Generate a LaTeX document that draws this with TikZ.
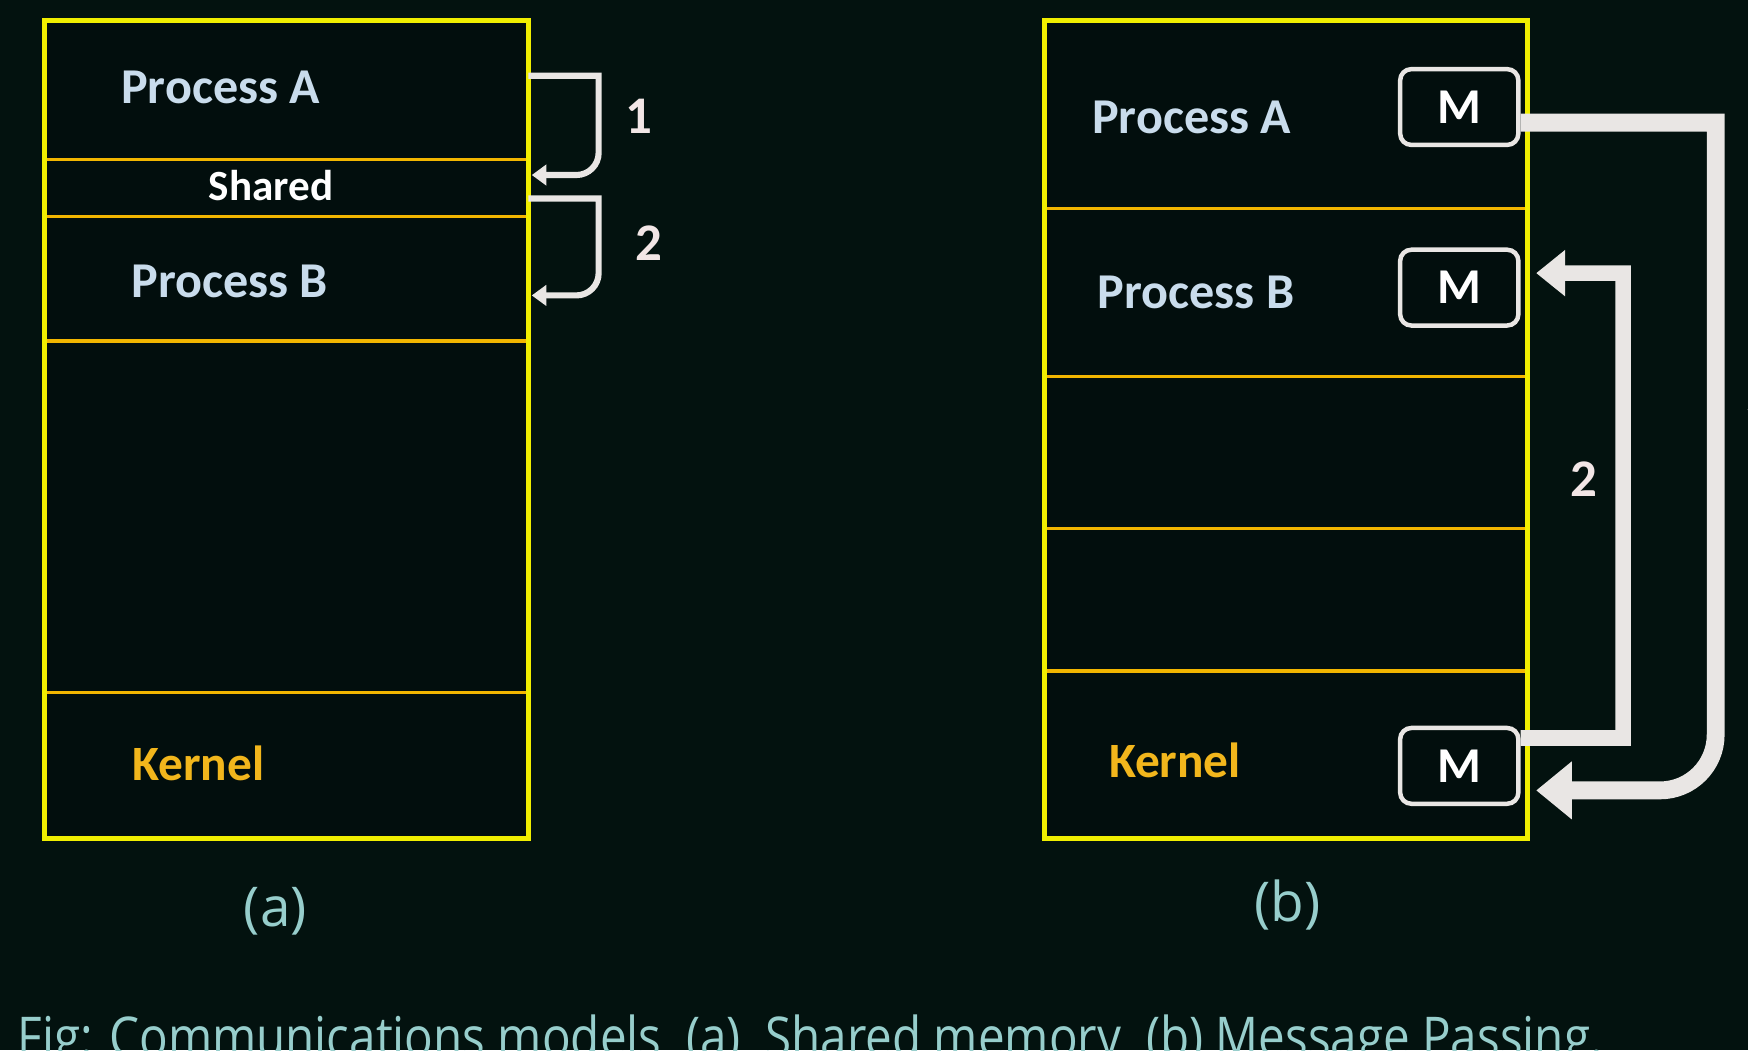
\documentclass[tikz,border=0pt]{standalone}
\usepackage{fontspec}
\setmainfont{Carlito}
\newfontfamily\capfont{Open Sans}
\usetikzlibrary{arrows.meta, calc, positioning}
\definecolor{bg}{HTML}{03120F}
\definecolor{inner}{HTML}{020E0D}
\definecolor{frame}{HTML}{F0EE00}
\definecolor{sepcol}{HTML}{F2B600}
\definecolor{proccol}{HTML}{C9DCEC}
\definecolor{kerncol}{HTML}{F2B61C}
\definecolor{msgcol}{HTML}{E9E6E4}
\definecolor{numcol}{HTML}{F2E6E6}
\definecolor{capcol}{HTML}{8CC8C6}
\tikzset{memory/.style={draw=frame, line width=0.45mm, fill=inner}}
\tikzset{sepline/.style={sepcol, line width=0.3mm}}
\tikzset{procname/.style={text=proccol, inner sep=0pt, font=\fontsize{12.8}{15}\selectfont\bfseries}}
\tikzset{kernname/.style={text=kerncol, inner sep=0pt, font=\fontsize{12.6}{15}\selectfont\bfseries}}
\tikzset{sharedname/.style={text=white, inner sep=0pt, font=\fontsize{11}{13}\selectfont\bfseries}}
\tikzset{msgbox/.style={draw=msgcol, line width=0.4mm, rounded corners=1mm, fill=inner, text=white,
  minimum width=10.6mm, minimum height=6.8mm, inner sep=0pt, font=\fontsize{12.8}{15}\selectfont\bfseries}}
\tikzset{stepnum/.style={text=numcol, inner sep=0pt, font=\fontsize{13.5}{16}\selectfont\bfseries}}
\tikzset{thinarrow/.style={msgcol, line width=0.55mm, -{Triangle[width=1.8mm, length=1.3mm]}}}
\tikzset{fatarrow/.style={msgcol, line width=1.6mm, -{Triangle[width=5mm, length=3.2mm]}}}
\tikzset{subcap/.style={text=capcol!90!white, inner sep=0pt, font=\capfont\fontsize{14}{17}\selectfont}}

\begin{document}
\begin{tikzpicture}[x=0.1mm, y=0.1mm]
		% Background
		\fill[bg] (0,0) rectangle (1568,942);
		\useasboundingbox (0,0) rectangle (1568,942);

		% Memory (a)
		\draw[memory] (40,190) rectangle (474,924);
		\draw[sepline] (42,799) -- (472,799);
		\draw[sepline] (42,748) -- (472,748);
		\draw[sepline] (42,636) -- (472,636);
		\draw[sepline] (42,321) -- (472,321);
		\node[procname] (pa) at (198,864) {Process A};
		\node[sharedname] (sh) at (243,776) {Shared};
		\node[procname] (pb) at (206,690) {Process B};
		\node[kernname] (ka) at (178,257) {Kernel};

		% Memory (b)
		\draw[memory] (937,190) rectangle (1370,924);
		\draw[sepline] (939,755) -- (1368,755);
		\draw[sepline] (939,604) -- (1368,604);
		\draw[sepline] (939,468) -- (1368,468);
		\draw[sepline] (939,340) -- (1368,340);
		\node[procname] (qa) at (1069,837) {Process A};
		\node[procname] (qb) at (1073,680) {Process B};
		\node[kernname] (kb) at (1054,260) {Kernel};
		\node[msgbox] (mA) at (1309,846) {M};
		\node[msgbox] (mB) at (1309,684) {M};
		\node[msgbox] (mK) at (1309,255) {M};

		% Coordinates
		\coordinate (s1) at (474,874);
		\coordinate (e1) at (477,785);
		\coordinate (s2) at (474,764);
		\coordinate (e2) at (477,677);

		% Arrows (a)
		\draw[thinarrow] (s1) -- (537,874) -- (537,805) to[out=-90, in=0] (517,785) -- (e1);
		\draw[thinarrow] (s2) -- (537,764) -- (537,697) to[out=-90, in=0] (517,677) -- (e2);
		\node[stepnum] (n1) at (573,838) {1};
		\node[stepnum] (n2) at (582,724) {2};

		% Arrows (b)
		\draw[fatarrow] ([yshift=-1.4mm]mA.east) -- (1539,832) -- (1539,283) to[out=-90, in=0] (1489,233) -- ([xshift=1.4mm, yshift=-2.2mm]mK.east);
		\draw[fatarrow, line width=1.4mm, -{Triangle[width=4mm, length=2.6mm]}] ([yshift=2.5mm]mK.east) -- (1456,280) -- (1456,697) -- ([xshift=1.4mm, yshift=1.3mm]mB.east);
		\node[stepnum] (m2) at (1421,512) {2};
		\node[stepnum] (m1) at (1577,567) {1};

		% Captions
		\node[subcap] (la) at (247,125) {(a)};
		\node[subcap] (lb) at (1155,130) {(b)};
		\node[subcap, anchor=base west] (fig) at (15,-6) {\resizebox{142.2mm}{\height}{Fig: Communications models\ \ (a)\ \ Shared memory\ \ (b) Message Passing.}};
	\end{tikzpicture}
\end{document}
